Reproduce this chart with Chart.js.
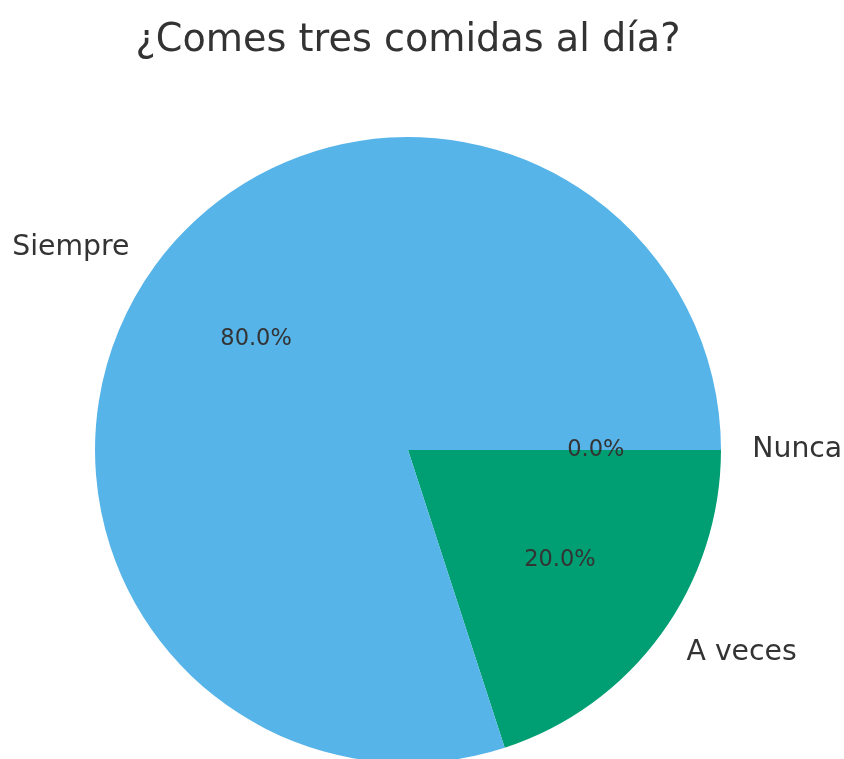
<!DOCTYPE html>
<html>
<head>
<meta charset="utf-8">
<script src="https://cdn.jsdelivr.net/npm/chart.js@4/dist/chart.umd.min.js"></script>
<style>
  html, body { margin: 0; padding: 0; background: #fff; overflow: hidden; }
  /* a bit taller than the window: the bottom of the pie runs off the page */
  #wrap { width: 844px; height: 770px; }
</style>
</head>
<body>
<div id="wrap"><canvas id="MealsChart"></canvas></div>
<script>
// answers, in the order they go round the pie
const categories = ['Siempre', 'A veces', 'Nunca'];
const percentages = [80, 20, 0];
const sliceColors = ['#56B4E9', '#009E73', '#E69F00'];

const textColor = '#333333';
const fontFamily = "'DejaVu Sans', sans-serif";

// pie goes counter-clockwise from 3 o'clock, chart.js goes clockwise,
// so feed the slices in reverse and start at 90 degrees
const order = categories.map((c, i) => i).reverse();

// slice names outside the pie and percentages inside it
const sliceLabels = {
    id: 'sliceLabels',
    afterDatasetsDraw(chart) {
        const ctx = chart.ctx;
        const meta = chart.getDatasetMeta(0);
        ctx.save();
        ctx.fillStyle = textColor;
        ctx.textBaseline = 'middle';
        meta.data.forEach((arc, i) => {
            const p = arc.getProps(['x', 'y', 'startAngle', 'endAngle', 'outerRadius'], true);
            const mid = (p.startAngle + p.endAngle) / 2;
            const cos = Math.cos(mid), sin = Math.sin(mid);

            // name at 1.1 radius
            ctx.font = '28.3px ' + fontFamily;
            ctx.textAlign = cos > 0 ? 'left' : 'right';
            ctx.fillText(chart.data.labels[i], p.x + cos * p.outerRadius * 1.1, p.y + sin * p.outerRadius * 1.1);

            // share at 0.6 radius
            ctx.font = '22.5px ' + fontFamily;
            ctx.textAlign = 'center';
            const val = chart.data.datasets[0].data[i];
            ctx.fillText(val.toFixed(1) + '%', p.x + cos * p.outerRadius * 0.6, p.y + sin * p.outerRadius * 0.6);
        });
        ctx.restore();
    }
};

const ctx = document.getElementById('MealsChart').getContext('2d');
const chart = new Chart(ctx, {
    type: 'pie',
    data: {
        labels: order.map(i => categories[i]),
        datasets: [{
            data: order.map(i => percentages[i]),
            backgroundColor: order.map(i => sliceColors[i]),
            borderWidth: 0,
            hoverOffset: 0
        }]
    },
    options: {
        responsive: true,
        maintainAspectRatio: false,
        animation: false,
        rotation: 90,
        layout: {
            padding: { left: 95, right: 123, top: 0, bottom: 7 }
        },
        plugins: {
            legend: { display: false },
            tooltip: { enabled: false },
            title: {
                display: true,
                text: '¿Comes tres comidas al día?',
                color: textColor,
                font: { size: 38.2, family: fontFamily, weight: 'normal', lineHeight: 1.2 },
                padding: { top: 18, bottom: 73.2 }
            }
        }
    },
    plugins: [sliceLabels]
});
</script>
</body>
</html>
